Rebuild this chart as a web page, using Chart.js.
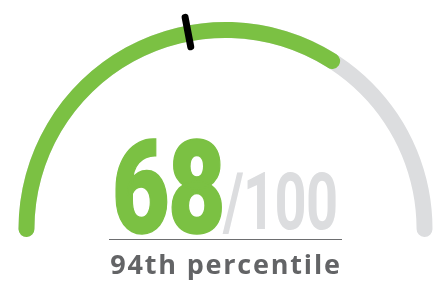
<!DOCTYPE html>
<html>
<head>
<meta charset="utf-8">
<script src="https://cdn.jsdelivr.net/npm/chart.js@4/dist/chart.umd.min.js"></script>
<style>
  html, body { margin: 0; padding: 0; background: #fff; }
  #wrap { position: relative; width: 433px; height: 287px; overflow: hidden; }
  #wrap canvas { position: absolute; left: 0; top: 0; }
  .txt { position: absolute; white-space: nowrap; line-height: 1; transform-origin: 0 0; }
  #score { left: 112px; top: 112px; font: 900 130px Roboto, sans-serif; color: #7bc143; transform: scaleX(0.764); letter-spacing: -2px; -webkit-text-stroke: 1.5px #7bc143; }
  #outof { left: 223px; top: 155px; font: 700 80px Roboto, sans-serif; color: #dcdddf; transform: scaleX(0.70); letter-spacing: -1px; }
  #rule { position: absolute; left: 109px; top: 239px; width: 233px; height: 1px; background: #6d6e70; }
  #pct { left: 0; width: 452px; text-align: center; top: 245px; font: 700 27px "Open Sans", sans-serif; color: #636466; letter-spacing: 1.8px; }
</style>
</head>
<body>
<div id="wrap">
  <canvas id="track" width="433" height="287"></canvas>
  <canvas id="gauge" width="433" height="287"></canvas>
  <div class="txt" id="score"></div>
  <div class="txt" id="outof"></div>
  <div id="rule"></div>
  <div class="txt" id="pct"></div>
</div>
<script>
var segmentLabels = ["Score", "Remaining"];
var scoreValues = [68, 32];
var trackValues = [100];
var maxScore = 100;
var markerValue = 44;
var percentileLabel = "94th percentile";

var green = "#7bc143";
var grey = "#dcdddf";

var W = 433, H = 287;
var R = 207, CX = 225.5, CY = 229;
// round caps stick out past the ends of the half circle
var capDeg = 2.3;

// chart.js shifts a partial doughnut by its bounding box; pad so both charts share one centre
function gaugeOptions(circ) {
  var s = (-90 - capDeg - 90) * Math.PI / 180;
  var e = s + circ * Math.PI / 180;
  var maxY = Math.max(Math.sin(s), Math.sin(e));
  var offY = (1 - maxY) / 2 * R;
  return {
    responsive: false,
    animation: false,
    events: [],
    rotation: -90 - capDeg,
    circumference: circ,
    radius: R,
    cutout: "92.3%",
    layout: { padding: { left: 2 * CX - W, right: 0, top: 0, bottom: H - 2 * (CY - offY) } },
    plugins: { legend: { display: false }, tooltip: { enabled: false } },
  };
}

new Chart(document.getElementById("track"), {
  type: "doughnut",
  data: {
    labels: ["Track"],
    datasets: [{ data: trackValues, backgroundColor: [grey], borderWidth: 0, borderRadius: 8 }],
  },
  options: gaugeOptions(180 + capDeg * 2),
});

var markerPlugin = {
  id: "marker",
  afterDatasetsDraw: function (chart) {
    var arc = chart.getDatasetMeta(0).data[0];
    var ctx = chart.ctx;
    var a = (-180 + 180 * markerValue / maxScore) * Math.PI / 180;
    var r1 = arc.innerRadius - 5.5;
    var r2 = arc.outerRadius + 8.5;
    ctx.save();
    ctx.strokeStyle = "#000";
    ctx.lineWidth = 7;
    ctx.lineCap = "round";
    ctx.beginPath();
    ctx.moveTo(arc.x + Math.cos(a) * r1, arc.y + Math.sin(a) * r1);
    ctx.lineTo(arc.x + Math.cos(a) * r2, arc.y + Math.sin(a) * r2);
    ctx.stroke();
    ctx.restore();
  },
};

// green tip has its own cap, so stretch the sweep to land the value on the 180deg scale
var share = scoreValues[0] / maxScore;
new Chart(document.getElementById("gauge"), {
  type: "doughnut",
  plugins: [markerPlugin],
  data: {
    labels: segmentLabels,
    datasets: [{ data: scoreValues, backgroundColor: [green, "rgba(0,0,0,0)"], borderWidth: 0, borderRadius: 8 }],
  },
  options: gaugeOptions(180 + 2 * capDeg / share),
});

document.getElementById("score").textContent = scoreValues[0];
document.getElementById("outof").textContent = "/" + maxScore;
document.getElementById("pct").textContent = percentileLabel;
</script>
</body>
</html>
